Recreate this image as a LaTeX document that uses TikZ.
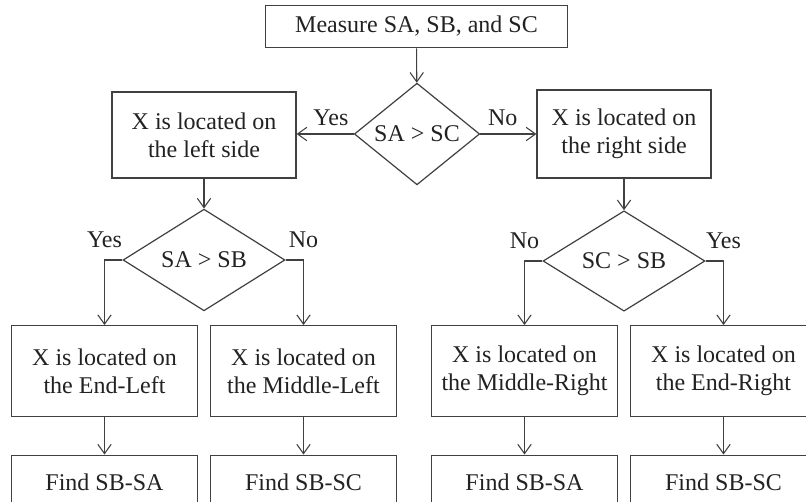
\documentclass[tikz,border=0pt]{standalone}
\usepackage{fontspec}
\setmainfont{Liberation Serif}
\usepackage{xcolor}
\definecolor{ink}{HTML}{222222}
\definecolor{edge}{HTML}{404040}
\usepackage{tikz}
\usetikzlibrary{arrows.meta,positioning,shapes.geometric}
\tikzset{
  >={Straight Barb[length=7pt,width=10pt]},
  font=\fontsize{18}{21}\selectfont,
  box/.style={draw=edge,line width=0.9pt,fill=white,text=ink,align=center,
              inner sep=2pt,minimum width=139pt,minimum height=68pt},
  dec/.style={diamond,draw=edge,line width=0.9pt,fill=white,text=ink,
              inner sep=0pt,minimum width=121.5pt,minimum height=67pt},
  flow/.style={->,line width=0.8pt,draw=edge},
  lbl/.style={text=ink,inner sep=1pt},
}
\begin{document}
\begin{tikzpicture}[x=0.75pt,y=-0.75pt]
  \useasboundingbox (0,0) rectangle (806,502);
  % first test
  \node[box,minimum width=227pt,minimum height=32pt] (meas) at (416.5,26.5) {Measure SA, SB, and SC};
  \node[dec,minimum width=94pt,minimum height=66pt] (qac) at (417,134) {SA > SC};
  \node[box,minimum width=138pt,minimum height=64.5pt] (lside) at (204,135) {X is located on\\the left side};
  \node[box,minimum width=130.5pt,minimum height=66pt] (rside) at (624,134) {X is located on\\the right side};
  \draw[flow] (meas) -- (qac);
  \draw[flow] (qac.west) -- node[lbl,above=5pt,pos=0.4]{Yes} (qac.west -| lside.east);
  \draw[flow] (qac.east) -- node[lbl,above=5pt,pos=0.4]{No} (qac.east -| rside.west);

  % second tests
  \node[dec] (qab) at (204,260) {SA > SB};
  \node[dec] (qcb) at (624,261) {SC > SB};
  \draw[flow] (lside) -- (qab);
  \draw[flow] (rside) -- (qcb);

  \node[box] (endl) at (104.5,371) {X is located on\\the End-Left};
  \node[box] (midl) at (303.5,371) {X is located on\\the Middle-Left};
  \node[box] (midr) at (524.5,371) {X is located on\\the Middle-Right};
  \node[box] (endr) at (723.5,371) {X is located on\\the End-Right};
  \draw[flow] (qab.west) -| node[lbl,above=7.5pt,pos=0.5]{Yes} (endl.north);
  \draw[flow] (qab.east) -| node[lbl,above=7.5pt,pos=0.5]{No} (midl.north);
  \draw[flow] (qcb.west) -| node[lbl,above=7.5pt,pos=0.5]{No} (midr.north);
  \draw[flow] (qcb.east) -| node[lbl,above=7.5pt,pos=0.5]{Yes} (endr.north);

  % results, cut by the page edge
  \foreach \n/\x/\t in {fa/104.5/SB-SA, fb/303.5/SB-SC, fc/524.5/SB-SA, fd/723.5/SB-SC}
    \node[box,minimum height=41pt] (\n) at (\x,482.5) {Find \t};
  \draw[flow] (endl) -- (fa);
  \draw[flow] (midl) -- (fb);
  \draw[flow] (midr) -- (fc);
  \draw[flow] (endr) -- (fd);
\end{tikzpicture}
\end{document}
